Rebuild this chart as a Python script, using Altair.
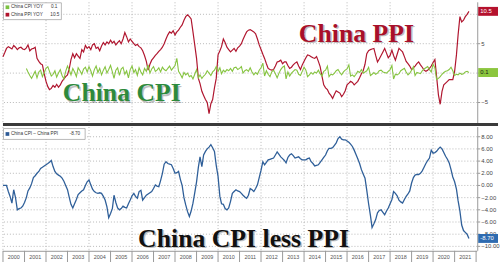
import altair as alt
import pandas as pd

# ---------------- data ----------------
ppi_start = "2000-01-01"
ppi_yoy = [
    2.8, 3.5, 4.2, 4.5, 4.3, 4.1, 4.7, 4.4, 4.0, 4.3, 4.4, 4.1,      # 2000
    4.0, 4.3, 4.8, 3.8, 4.1, 4.2, 4.4, 2.5, 2.0, 1.6, 1.4, -0.1,     # 2001
    -1.4, -2.3, -2.8, -2.6, -2.1, -2.4, -1.9, -2.4, -2.0, -1.4, -1.0, -0.6,  # 2002
    -0.3, 0.8, 2.3, 3.3, 2.6, 3.3, 2.9, 2.5, 4.0, 3.6, 4.7, 4.2,     # 2003
    4.5, 4.0, 4.8, 5.0, 4.2, 4.4, 3.8, 4.6, 5.2, 4.8, 5.3, 5.0,      # 2004
    5.6, 5.1, 5.4, 4.8, 5.2, 5.5, 5.0, 5.8, 6.9, 6.2, 5.3, 5.8,      # 2005
    5.4, 5.0, 4.7, 4.9, 4.5, 4.3, 3.8, 3.0, 2.0, 0.5, 1.5, 2.2,      # 2006
    2.6, 3.0, 3.3, 3.7, 4.0, 4.4, 5.0, 5.8, 6.5, 7.0, 6.8, 7.2,      # 2007
    6.5, 7.0, 7.3, 7.8, 8.2, 9.0, 9.6, 9.9, 9.6, 9.2, 7.0, 4.8,      # 2008
    2.5, -0.9, -1.8, -3.1, -3.8, -4.5, -5.0, -6.9, -5.2, -4.5, -2.5, -0.9,  # 2009
    3.1, 3.8, 4.5, 5.8, 5.2, 4.4, 4.0, 3.6, 3.9, 4.2, 3.7, 4.3,      # 2010
    4.6, 5.0, 5.7, 6.4, 7.0, 7.3, 7.4, 7.2, 7.0, 6.7, 5.8, 4.8,      # 2011
    4.0, 3.2, 2.5, 1.6, 0.8, 0.6, 0.5, 0.6, 1.2, 1.9, 2.0, 2.2,      # 2012
    1.6, 1.9, 1.9, 1.3, 0.8, 1.0, 1.4, 1.7, 1.9, 1.2, 0.6, 1.4,      # 2013
    2.0, 2.6, 3.1, 3.0, 2.8, 2.6, 2.5, 2.8, 2.0, 1.1, -0.5, -2.0,    # 2014
    -2.5, -2.8, -3.4, -3.8, -4.3, -3.6, -3.0, -3.2, -3.4, -4.0, -3.6, -3.0,  # 2015
    -2.0, -1.7, -1.4, -1.6, -2.0, -1.7, -1.4, -0.8, -0.1, 0.4, 1.5, 3.3,     # 2016
    3.8, 4.0, 4.1, 4.2, 3.0, 1.9, 2.4, 3.0, 3.6, 4.2, 3.4, 2.6,      # 2017
    3.0, 3.9, 3.0, 2.2, 3.2, 4.2, 3.9, 3.6, 2.8, 2.0, 1.6, 1.2,      # 2018
    0.6, 0.9, 1.2, 1.6, 1.9, 1.4, 1.0, 0.5, 0.3, 0.5, 0.8, 1.2,      # 2019
    1.8, 2.3, -0.6, -3.7, -5.3, -3.1, -2.0, -1.7, -1.4, -1.1, -1.1, -1.1,    # 2020
    0.3, 3.1, 6.5, 9.6, 8.7, 9.0, 9.6, 10.0, 10.5,                  # 2021
]

cpi_start = "2001-02-01"
cpi_yoy = [
    0.8, 0.2, -0.4, -0.9, -0.3, 0.3, -0.8, 0.2, 0.5, -0.6, 0.1,      # 2001 (Feb-)
    0.8, 1.1, 0.3, -0.5, -0.2, 0.4, -0.7, 0.0, 0.6, -0.4, -1.0, 0.3,  # 2002
    1.2, 0.5, -0.3, 0.8, 0.2, -0.6, 0.9, 0.4, -0.2, 0.7, 1.0, 0.2,   # 2003
    1.1, 0.4, -0.5, 0.6, 1.2, 0.1, 0.8, -0.3, 0.5, 1.1, 0.0, 0.6,    # 2004
    1.3, 0.2, -0.9, 0.5, 0.9, -0.4, 0.7, 1.0, -0.2, 0.4, -0.8, 0.6,  # 2005
    1.2, 0.1, 0.6, -0.4, 0.9, 0.2, -0.3, 0.8, 0.3, 1.4, 0.0, 0.7,    # 2006
    1.1, 0.3, 0.5, 0.9, 0.2, 1.0, 0.6, 0.4, 0.8, 1.2, 0.5, 0.9,      # 2007
    1.3, 2.5, 0.3, -0.2, -0.8, 0.1, -0.3, 0.0, -0.6, -0.4, -1.0, -0.2,  # 2008
    0.6, -0.8, -0.3, -0.9, -0.5, -0.2, 0.4, 0.0, -0.4, 0.2, 0.5, 1.1,   # 2009
    0.3, 0.9, -0.1, 0.5, 0.2, 0.6, 0.4, 0.8, 0.3, 0.9, 1.0, 0.6,     # 2010
    0.8, 1.1, 0.0, 0.4, 0.6, 0.3, 0.9, 0.2, -0.3, 0.1, -0.2, 0.5,    # 2011
    0.9, 1.7, -0.5, 0.4, -0.2, -0.6, 0.2, 0.5, -0.1, -0.8, 0.0, 0.6,  # 2012
    1.0, 1.2, -1.0, 0.2, -0.5, 0.0, 0.3, 0.6, 0.5, -0.2, -0.4, 0.3,  # 2013
    1.0, 0.5, -0.6, -0.3, 0.1, -0.2, 0.2, 0.0, 0.5, -0.1, -0.5, 0.3,  # 2014
    0.5, 1.2, -0.6, -0.2, -0.3, 0.0, 0.4, 0.6, 0.1, -0.3, 0.2, 0.5,  # 2015
    0.7, 1.4, -0.5, -0.3, -0.6, -0.2, 0.3, 0.1, 0.6, 0.0, 0.2, 0.4,  # 2016
    1.0, -0.4, -0.2, 0.1, -0.2, 0.0, 0.4, 0.5, 0.2, 0.1, 0.0, 0.3,   # 2017
    0.6, 1.3, -1.0, -0.2, -0.3, -0.1, 0.4, 0.6, 0.8, 0.2, -0.3, 0.0,  # 2018
    0.5, 1.1, -0.4, 0.1, 0.0, -0.1, 0.4, 0.7, 0.9, 1.1, 0.6, 0.2,    # 2019
    1.5, 0.9, -1.1, -0.9, -0.6, -0.2, 0.1, 0.3, 0.4, 0.6, 1.0, 0.4,  # 2020
    -0.4, -0.2, -0.3, 0.0, -0.2, -0.1, 0.2, 0.3, 0.1,               # 2021
]

spread_start = "2000-01-01"
cpi_less_ppi = [
    0.0, 0.0, 0.0, -1.0, -1.8, -2.9, -0.7, -2.0, -4.0, -3.8, -3.7, -3.4,   # 2000
    -2.8, -2.0, -0.9, -0.4, 0.3, 1.3, 1.6, 2.0, 2.3, 2.8, 3.0, 3.2,        # 2001
    3.4, 3.6, 3.8, 4.1, 3.1, 2.3, 1.9, 1.7, 1.5, 1.2, 0.7, 0.0,            # 2002
    -0.7, -2.0, -3.1, -3.7, -3.0, -2.3, -1.5, -1.2, -0.9, -0.7, 0.0, 0.6,  # 2003
    0.9, 0.1, -0.6, -1.0, -1.2, -1.3, -1.2, -1.3, -1.8, -2.4, -3.5, -5.3,  # 2004
    -4.6, -3.8, -1.6, -2.8, -3.7, -4.0, -3.8, -3.4, -3.6, -3.7, -3.0, -2.4,  # 2005
    -1.7, -1.3, -1.8, -2.1, -1.0, -0.8, -2.4, -2.0, -1.6, -1.4, -1.2, -1.0,  # 2006
    -0.5, 0.1, -0.1, -0.2, 0.8, 2.0, 3.5, 3.9, 3.6, 3.5, 3.4, 2.8,         # 2007
    2.0, 2.1, 2.3, 1.0, 0.0, -2.0, -3.2, -4.3, -5.1, -4.2, -2.9, -1.2,     # 2008
    0.6, 3.0, 4.7, 3.1, 5.0, 5.6, 6.0, 6.3, 6.7, 6.2, 5.6, 3.3,            # 2009
    1.5, -1.8, -3.0, -3.1, -3.8, -4.0, -3.7, -2.6, -1.3, -1.0, -0.7, -0.9,  # 2010
    -1.0, -1.3, -1.6, -1.9, -2.1, -1.6, -0.5, -0.7, -1.0, -0.5, 0.1, 1.3,  # 2011
    2.5, 3.9, 3.4, 3.8, 4.2, 4.3, 4.4, 4.5, 5.0, 5.5, 5.1, 4.7,            # 2012
    4.4, 4.1, 3.7, 4.6, 5.0, 5.2, 4.9, 4.5, 4.6, 4.7, 4.4, 4.2,            # 2013
    4.2, 4.2, 4.4, 4.5, 3.9, 3.6, 3.2, 3.3, 3.4, 3.8, 4.2, 4.6,            # 2014
    5.0, 5.7, 6.1, 6.1, 6.2, 6.6, 7.0, 7.7, 8.0, 7.6, 7.5, 7.5,            # 2015
    7.3, 7.1, 6.8, 6.4, 5.8, 5.1, 4.4, 3.6, 2.6, 1.9, 1.2, -0.8,           # 2016
    -3.0, -4.9, -6.9, -6.3, -5.6, -4.5, -4.1, -4.0, -4.4, -4.8, -4.2, -3.7,  # 2017
    -3.0, -2.3, -1.0, -1.3, -1.7, -2.4, -2.7, -2.9, -2.3, -1.8, -1.4, -0.9,  # 2018
    0.4, 1.3, 1.7, 1.8, 1.8, 2.0, 2.4, 3.0, 3.6, 4.1, 4.5, 5.8,            # 2019
    5.3, 5.4, 5.6, 6.0, 6.3, 6.0, 5.4, 4.8, 4.3, 3.7, 2.6, 1.4,            # 2020
    0.6, -0.6, -2.5, -4.2, -6.5, -7.4, -7.7, -8.0, -8.7,                   # 2021
]

year_labels = list(range(2000, 2022))
year_dividers = list(range(2000, 2023))
grid_years = list(range(2000, 2021, 2))
top_ticks = [-5, 0, 5, 10]
top_hidden_labels = [0, 10]          # covered by the last-value tags in the reference
bottom_ticks = [-10, -8, -6, -4, -2, 0, 2, 4, 6, 8]

# ---------------- styling ----------------
W, TOP_H, BOT_H = 479, 122, 125
RED, GREEN, BLUE = "#b0162f", "#86c440", "#2f5f99"
GRID = "#b8b8b8"
AXIS = "#9a9a9a"
SANS = "Liberation Sans"
SERIF = "Liberation Serif"


def months(start, n):
    return pd.date_range(start, periods=n, freq="MS")


ppi_df = pd.DataFrame({"date": months(ppi_start, len(ppi_yoy)), "v": ppi_yoy})
cpi_df = pd.DataFrame({"date": months(cpi_start, len(cpi_yoy)), "v": cpi_yoy})
spr_df = pd.DataFrame({"date": months(spread_start, len(cpi_less_ppi)), "v": cpi_less_ppi})
grid_df = pd.DataFrame({"date": pd.to_datetime([f"{y}-01-01" for y in grid_years])})
div_df = pd.DataFrame({"date": pd.to_datetime([f"{y}-01-01" for y in year_dividers])})
lab_df = pd.DataFrame({"date": pd.to_datetime([f"{y}-07-02" for y in year_labels]),
                       "label": [str(y) for y in year_labels]})
one = pd.DataFrame({"a": [0]})

xscale = alt.Scale(domain=[alt.DateTime(year=2000, month=1, date=1),
                           alt.DateTime(year=2022, month=1, date=20)])
ytop = alt.Scale(domain=[-8.5, 12.04], nice=False, zero=False)
ybot = alt.Scale(domain=[-10.73, 9.59], nice=False, zero=False)


def X(field):
    return alt.X(field, scale=xscale, axis=None)


def right_axis(ticks, fmt, scale, H, hidden=()):
    df = pd.DataFrame({"v": ticks})
    lab = pd.DataFrame({"v": [t for t in ticks if t not in hidden]})
    Y = alt.Y("v:Q", scale=scale, axis=None)
    grid = alt.Chart(df).mark_rule(color=GRID, strokeDash=[1, 2], strokeWidth=1).encode(y=Y)
    dom = alt.Chart(one).mark_rule(color=AXIS, strokeWidth=1).encode(
        x=alt.value(W + 0.5), y=alt.value(0), y2=alt.value(H))
    tk = alt.Chart(df).mark_rule(color=AXIS, strokeWidth=1).encode(
        x=alt.value(W + 0.5), x2=alt.value(W + 3), y=Y)
    lb = alt.Chart(lab).mark_text(align="left", baseline="middle", fontSize=6, font=SANS,
                                  color="#444").encode(
        x=alt.value(W + 4), y=Y, text=alt.Text("v:Q", format=fmt))
    return [grid, dom, tk, lb]


def vgrid():
    return alt.Chart(grid_df).mark_rule(color=GRID, strokeDash=[1, 2], strokeWidth=1).encode(
        x=X("date:T"))


def big_text(txt, x, y, color):
    shadow = alt.Chart(one).mark_text(text=txt, font=SERIF, fontWeight="bold", fontSize=26,
                                      color="#000", opacity=0.25, dx=1.5, dy=1.5,
                                      align="center", baseline="alphabetic").encode(
        x=alt.value(x), y=alt.value(y))
    main = alt.Chart(one).mark_text(text=txt, font=SERIF, fontWeight="bold", fontSize=26,
                                    color=color, align="center", baseline="alphabetic").encode(
        x=alt.value(x), y=alt.value(y))
    return [shadow, main]


def tag(value, label, fill, tcolor, scale):
    df = pd.DataFrame({"v": [value], "label": [label]})
    Y = alt.Y("v:Q", scale=scale, axis=None)
    box = alt.Chart(df).mark_tick(orient="horizontal", thickness=9, color=fill, opacity=1).encode(
        x=alt.value(490), y=Y, size=alt.value(20))
    txt = alt.Chart(df).mark_text(align="left", baseline="middle", fontSize=6, font=SANS,
                                  color=tcolor).encode(x=alt.value(482), y=Y, text="label:N")
    return [box, txt]


def legend_row(y, color, name, val, right):
    sq = alt.Chart(one).mark_square(size=14, color=color, opacity=1).encode(
        x=alt.value(4.5), y=alt.value(y))
    nm = alt.Chart(one).mark_text(text=name, align="left", baseline="middle", fontSize=4.7,
                                  font=SANS, color="#333").encode(x=alt.value(8), y=alt.value(y))
    vl = alt.Chart(one).mark_text(text=val, align="right", baseline="middle", fontSize=4.7,
                                  font=SANS, color="#333").encode(x=alt.value(right), y=alt.value(y))
    return [sq, nm, vl]


def legend_box(x2, y, y2):
    return alt.Chart(one).mark_rect(fill="white", stroke="#9a9a9a", strokeWidth=0.7).encode(
        x=alt.value(0.5), x2=alt.value(x2), y=alt.value(y), y2=alt.value(y2))


# ---------------- top panel ----------------
ppi_line = alt.Chart(ppi_df).mark_line(color=RED, strokeWidth=1.2).encode(
    x=X("date:T"), y=alt.Y("v:Q", scale=ytop, axis=None))
cpi_line = alt.Chart(cpi_df).mark_line(color=GREEN, strokeWidth=1.1).encode(
    x=X("date:T"), y=alt.Y("v:Q", scale=ytop, axis=None))
separator = alt.Chart(one).mark_rule(color="#3a3a3a", strokeWidth=3).encode(
    x=alt.value(0), x2=alt.value(500), y=alt.value(TOP_H + 1.5))

top_layers = [vgrid()] + right_axis(top_ticks, "d", ytop, TOP_H, top_hidden_labels)
top_layers += [ppi_line, cpi_line]
top_layers += big_text("China PPI", 357, 40, "#a8102a")
top_layers += big_text("China CPI", 120, 100, "#2d8a3c")
top_layers += [legend_box(59, 0.5, 17.5)]
top_layers += legend_row(5, "#7cc242", "China CPI YOY", "0.1", 55)
top_layers += legend_row(12.5, "#b0122b", "China PPI YOY", "10.5", 57)
top_layers += tag(ppi_yoy[-1], "10.5", "#b5122e", "white", ytop)
top_layers += tag(cpi_yoy[-1], "0.1", "#8cc63f", "#1a1a1a", ytop)
top_layers += [separator]
top = alt.layer(*top_layers).properties(width=W, height=TOP_H)

# ---------------- bottom panel ----------------
spr_line = alt.Chart(spr_df).mark_line(color=BLUE, strokeWidth=1.3).encode(
    x=X("date:T"), y=alt.Y("v:Q", scale=ybot, axis=None))

x_domain = alt.Chart(one).mark_rule(color=AXIS, strokeWidth=1).encode(
    x=alt.value(0), x2=alt.value(W), y=alt.value(BOT_H + 0.5))
x_dividers = alt.Chart(div_df).mark_rule(color=AXIS, strokeWidth=1).encode(
    x=X("date:T"), y=alt.value(BOT_H), y2=alt.value(BOT_H + 12))
x_labels = alt.Chart(lab_df).mark_text(fontSize=5.5, font=SANS, color="#555",
                                       baseline="middle", align="center").encode(
    x=X("date:T"), y=alt.value(BOT_H + 6.5), text="label:N")

bot_layers = [vgrid()] + right_axis(bottom_ticks, ".2f", ybot, BOT_H) + [spr_line]
bot_layers += [x_domain, x_dividers, x_labels]
bot_layers += big_text("China CPI less PPI", 243, 121, "#111111")
bot_layers += [legend_box(83, 1.5, 12.5)]
bot_layers += legend_row(7, "#2d5a96", "China CPI \u2013 China PPI", "-8.70", 78)
bot_layers += tag(cpi_less_ppi[-1], "-8.70", "#2e6bb0", "white", ybot)
bottom = alt.layer(*bot_layers).properties(width=W, height=BOT_H)

chart = alt.vconcat(top, bottom, spacing=0).properties(
    padding=0, background="white"
).configure_view(stroke=None)

chart.save("out.html", embed_options={"renderer": "svg", "actions": False})
